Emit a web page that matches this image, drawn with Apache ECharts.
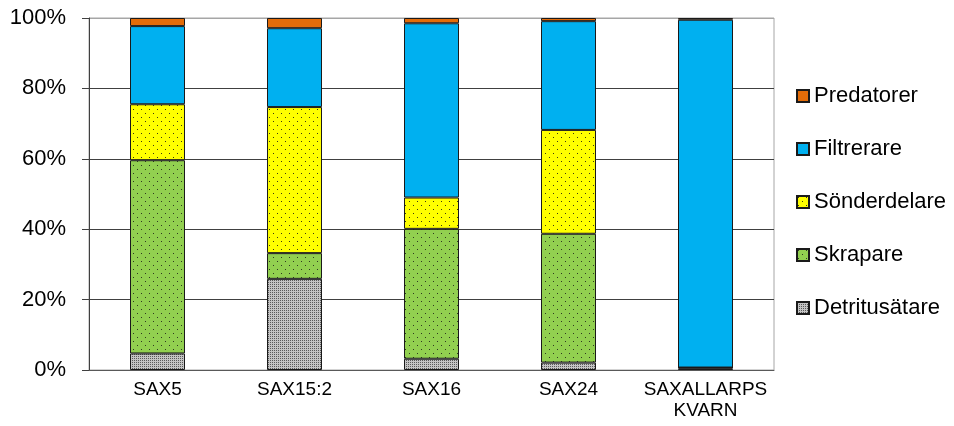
<!DOCTYPE html>
<html>
<head>
<meta charset="utf-8">
<script src="https://cdn.jsdelivr.net/npm/echarts@6/dist/echarts.min.js"></script>
<style>
  html, body { margin: 0; padding: 0; background: #fff; }
  #chart { width: 954px; height: 426px; }
</style>
</head>
<body>
<div id="chart"></div>
<script>
// Sampling sites
const categories = ['SAX5', 'SAX15:2', 'SAX16', 'SAX24', 'SAXALLARPS\nKVARN'];

// Share (%) of each functional feeding group per site
const detritusatare = [4.7, 25.9, 3.2, 2.1, 0.4];
const skrapare      = [54.9, 7.3, 36.9, 36.6, 0.3];
const sonderdelare  = [15.9, 41.5, 8.9, 29.5, 0.0];
const filtrerare    = [22.2, 22.4, 49.5, 30.9, 98.8];
const predatorer    = [2.3, 2.9, 1.5, 0.9, 0.5];

const yTicks = [0, 20, 40, 60, 80, 100];

// Small repeating tile used as a fill pattern
function makeTile(size, bg, dots, dotColor) {
  const c = document.createElement('canvas');
  c.width = size; c.height = size;
  const g = c.getContext('2d');
  g.fillStyle = bg;
  g.fillRect(0, 0, size, size);
  g.fillStyle = dotColor;
  dots.forEach(([x, y]) => g.fillRect(x, y, 1, 1));
  return { image: c, repeat: 'repeat' };
}

const fillDetritus = makeTile(4, '#c4c4c4', [[0, 0], [2, 2], [0, 2], [2, 0]], '#5a5a5a');
const fillSkrapare = makeTile(8, '#92d050', [[1, 1], [5, 5]], '#2e3a20');
const fillSonder   = makeTile(8, '#ffff00', [[1, 1], [5, 5]], '#3a3a10');

const edge = { borderColor: '#1a1a1a', borderWidth: 1 };

function bar(name, data, color) {
  return {
    name: name,
    type: 'bar',
    stack: 'total',
    barWidth: 55,
    data: data,
    itemStyle: Object.assign({ color: color }, edge),
    emphasis: { disabled: true }
  };
}

const chart = echarts.init(document.getElementById('chart'), null, { renderer: 'canvas' });

chart.setOption({
  animation: false,
  // Chart heading sits mostly above the top edge of the canvas
  graphic: [{
    type: 'text',
    x: 444,
    y: 9,
    silent: true,
    style: {
      text: 'Funktionella grupper',
      fontFamily: 'Liberation Sans',
      fontSize: 30,
      lineHeight: 50,
      fill: '#000',
      align: 'left',
      verticalAlign: 'bottom'
    }
  }],
  grid: {
    left: 89, right: 180, top: 18, bottom: 56,
    show: true, borderColor: '#a6a6a6', borderWidth: 1, backgroundColor: 'transparent'
  },
  legend: {
    orient: 'vertical',
    left: 791,
    top: 80,
    itemWidth: 12,
    itemHeight: 12,
    itemGap: 31,
    icon: 'rect',
    data: ['Predatorer', 'Filtrerare', 'Sönderdelare', 'Skrapare', 'Detritusätare'],
    textStyle: { fontFamily: 'Liberation Sans', fontSize: 22, color: '#000' }
  },
  xAxis: {
    type: 'category',
    data: categories,
    axisTick: { show: false },
    axisLine: { lineStyle: { color: '#595959', width: 1 } },
    axisLabel: {
      interval: 0,
      margin: 9,
      fontFamily: 'Liberation Sans Narrow, Liberation Sans',
      fontSize: 19,
      lineHeight: 21,
      color: '#000'
    }
  },
  yAxis: {
    type: 'value',
    min: yTicks[0],
    max: yTicks[yTicks.length - 1],
    interval: 20,
    axisLine: { show: true, lineStyle: { color: '#404040', width: 1 } },
    axisTick: { show: true, length: 7, lineStyle: { color: '#404040' } },
    splitLine: {
      show: true,
      lineStyle: { color: ['#404040', '#404040', '#404040', '#404040', '#404040', '#a6a6a6'], width: 1 }
    },
    axisLabel: {
      margin: 23,
      formatter: '{value}%',
      fontFamily: 'Liberation Sans',
      fontSize: 22,
      color: '#000'
    }
  },
  series: [
    bar('Detritusätare', detritusatare, fillDetritus),
    bar('Skrapare', skrapare, fillSkrapare),
    bar('Sönderdelare', sonderdelare, fillSonder),
    bar('Filtrerare', filtrerare, '#00b0f0'),
    bar('Predatorer', predatorer, '#e36c09')
  ]
});
</script>
</body>
</html>
